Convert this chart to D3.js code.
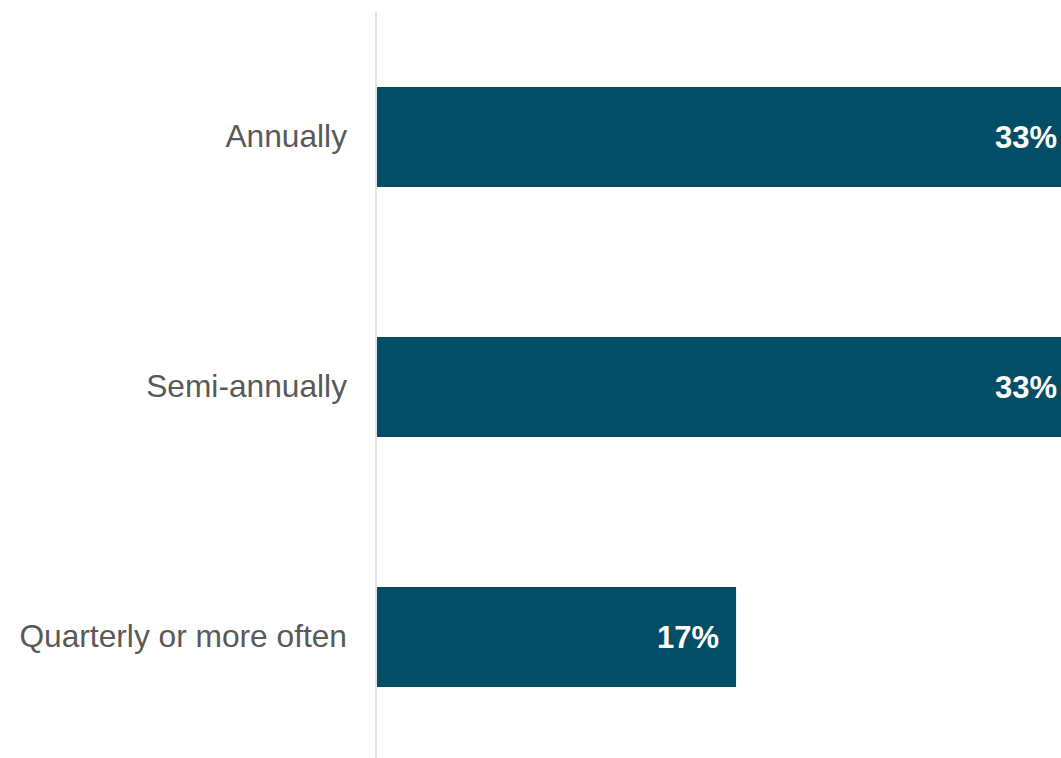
<!DOCTYPE html>
<html>
<head>
<meta charset="utf-8">
<script src="https://cdn.jsdelivr.net/npm/d3@7"></script>
<style>
  html, body { margin: 0; padding: 0; background: #ffffff; overflow: hidden; }
  svg { display: block; }
</style>
</head>
<body>
<div id="chart"></div>
<script>
// Review frequency shares
const categories = ["Annually", "Semi-annually", "Quarterly or more often"];
const values = [33, 33, 17];
const valueLabels = ["33%", "33%", "17%"];

const width = 1061, height = 758;
const axisX = 376;
const fontStack = "Arial, 'Liberation Sans', sans-serif";

const svg = d3.select("#chart").append("svg")
  .attr("width", width)
  .attr("height", height);

const y = d3.scaleBand()
  .domain(categories)
  .range([12, 762])
  .paddingInner(0.6)
  .paddingOuter(0.3);

const x = d3.scaleLinear()
  .domain([0, 33])
  .range([axisX + 1, axisX + 1 + 697]);

// Bars
svg.selectAll("rect.bar")
  .data(categories)
  .join("rect")
  .attr("class", "bar")
  .attr("x", x(0))
  .attr("y", d => y(d))
  .attr("width", (d, i) => x(values[i]) - x(0))
  .attr("height", y.bandwidth())
  .attr("fill", "#034d66");

// Category axis
const yAxis = d3.axisLeft(y).tickSize(0).tickPadding(29);
const gAxis = svg.append("g")
  .attr("transform", `translate(${axisX},0)`)
  .call(yAxis);
gAxis.attr("font-family", fontStack).attr("font-size", 31.7);
gAxis.select(".domain")
  .attr("d", `M0,12V762`)
  .attr("stroke", "#e3e3e3")
  .attr("stroke-width", 2);
gAxis.selectAll(".tick text")
  .attr("fill", "#595959")
  .style("font-family", fontStack)
  .style("font-size", "31.7px");

// Value labels inside bar ends
svg.selectAll("text.val")
  .data(categories)
  .join("text")
  .attr("class", "val")
  .attr("x", (d, i) => x(values[i]) - 17)
  .attr("y", d => y(d) + y.bandwidth() / 2)
  .attr("dy", "0.35em")
  .attr("text-anchor", "end")
  .attr("fill", "#ffffff")
  .style("font-family", fontStack)
  .style("font-weight", "bold")
  .style("font-size", "31px")
  .text((d, i) => valueLabels[i]);
</script>
</body>
</html>
